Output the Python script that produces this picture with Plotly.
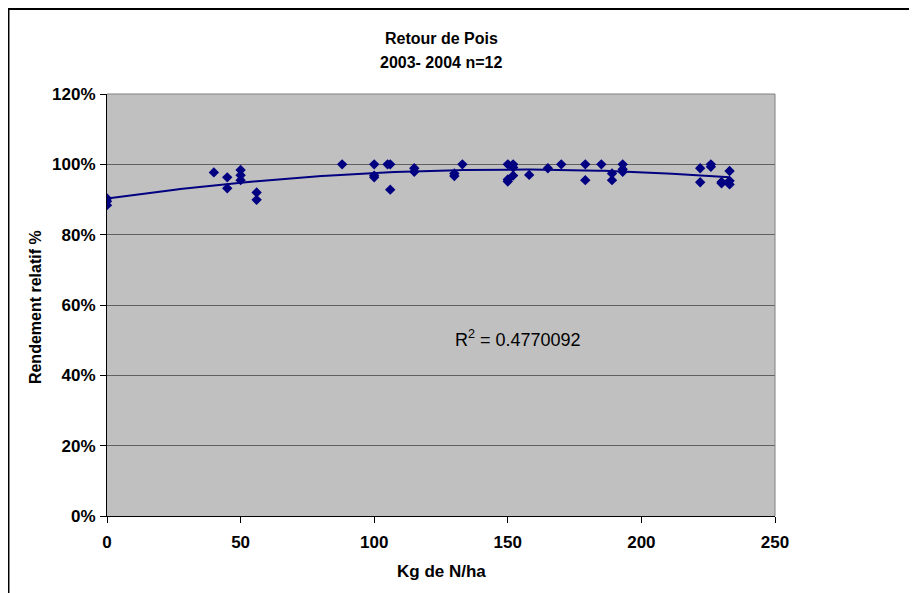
import numpy as np
import plotly.graph_objects as go

# Kg de N/ha vs rendement relatif (%)
dose_n = [0, 0, 0, 40, 45, 45, 50, 50, 50, 56, 56, 88, 100, 100, 100, 105, 106, 106,
          115, 115, 130, 130, 133, 150, 150, 150, 152, 152, 152, 158, 165, 170,
          179, 179, 185, 189, 189, 193, 193, 193, 222, 222, 226, 226, 230, 230,
          233, 233, 233]
rendement = [90.3, 89.5, 88.4, 97.7, 96.3, 93.2, 98.4, 96.9, 95.5, 92.0, 89.9, 100,
             100, 96.8, 96.3, 100, 100, 92.8, 98.9, 97.9, 97.4, 96.7, 100, 100, 95.7,
             95.1, 100, 99.1, 96.8, 97.0, 98.9, 100, 100, 95.5, 100, 97.4, 95.5, 100,
             98.6, 97.9, 98.9, 94.9, 100, 99.3, 95.0, 94.6, 98.1, 95.3, 94.3]
r2_text = "R<sup>2</sup> = 0.4770092"
y_ticks = [0, 20, 40, 60, 80, 100, 120]
y_labels = ["0%", "20%", "40%", "60%", "80%", "100%", "120%"]
x_ticks = [0, 50, 100, 150, 200, 250]

# polynomial trendline (order 2), like the Excel one
coef = np.polyfit(dose_n, rendement, 2)
xs = np.linspace(min(dose_n), max(dose_n), 120)
ys = np.polyval(coef, xs)

navy = "#000080"
font = "Liberation Sans, Arial, sans-serif"

fig = go.Figure()
fig.add_trace(go.Scatter(x=xs, y=ys, mode="lines",
                         line=dict(color=navy, width=2), hoverinfo="skip"))
fig.add_trace(go.Scatter(x=dose_n, y=rendement, mode="markers",
                         marker=dict(symbol="diamond", size=8, color=navy)))

# page has an 8px body margin, so the figure is 8px smaller
fig.update_layout(
    width=909, height=585,
    margin=dict(l=99, r=142, t=86, b=77),
    paper_bgcolor="white", plot_bgcolor="#C0C0C0",
    showlegend=False,
    font=dict(family=font, color="black"),
)
fig.update_xaxes(
    range=[0, 250], tickvals=x_ticks, ticktext=["<b>%d</b>" % v for v in x_ticks],
    showgrid=False, zeroline=False,
    showline=True, linecolor="black", linewidth=1,
    ticks="outside", ticklen=6, tickcolor="black", ticklabelstandoff=5,
    tickfont=dict(size=17),
)
fig.update_yaxes(
    range=[0, 120], tickvals=y_ticks, ticktext=["<b>%s</b>" % s for s in y_labels],
    showgrid=True, gridcolor="#606060", gridwidth=1, zeroline=False,
    showline=True, linecolor="black", linewidth=1,
    ticks="outside", ticklen=6, tickcolor="black", ticklabelstandoff=1,
    tickfont=dict(size=17),
)

# top / right frame of the plot area
fig.add_shape(type="line", xref="paper", yref="paper", x0=0, x1=1, y0=1, y1=1,
              line=dict(color="#808080", width=1))
fig.add_shape(type="line", xref="paper", yref="paper", x0=1, x1=1, y0=0, y1=1,
              line=dict(color="#808080", width=1))
# chart border (only left and top visible)
fig.add_shape(type="rect", xref="paper", yref="paper",
              x0=-0.1475, x1=1.6, y0=-0.5, y1=1.2015,
              line=dict(color="black", width=2))

fig.add_annotation(text="<b>Retour de Pois</b>", xref="paper", yref="paper",
                   x=0.5, y=1.1327, showarrow=False, font=dict(size=16),
                   yanchor="middle")
fig.add_annotation(text="<b>2003- 2004 n=12</b>", xref="paper", yref="paper",
                   x=0.5, y=1.0758, showarrow=False, font=dict(size=16),
                   yanchor="middle")
fig.add_annotation(text="<b>Kg de N/ha</b>", xref="paper", yref="paper",
                   x=0.5, y=-0.1327, showarrow=False, font=dict(size=17),
                   yanchor="middle")
fig.add_annotation(text="<b>Rendement relatif %</b>", xref="paper", yref="paper",
                   x=-0.1078, y=0.495, showarrow=False, font=dict(size=16),
                   textangle=-90, xanchor="center", yanchor="middle")
fig.add_annotation(text=r2_text, x=154, y=50.6, showarrow=False,
                   font=dict(size=18))

fig.write_html("out.html")
